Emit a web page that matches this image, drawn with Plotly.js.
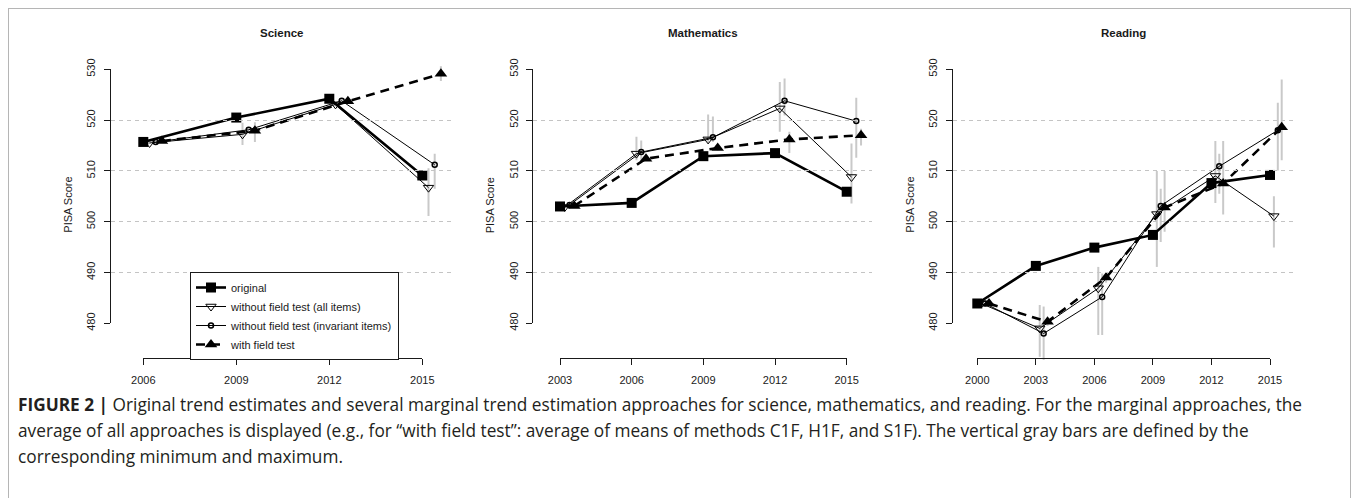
<!DOCTYPE html>
<html>
<head>
<meta charset="utf-8">
<script src="https://cdn.plot.ly/plotly-3.0.1.min.js"></script>
<style>
  html, body { margin:0; padding:0; background:#fff; }
  #wrap { position:relative; width:1358px; height:498px; overflow:hidden; }
  #chart { position:absolute; left:0; top:0; width:1358px; height:498px; }
  #frame { position:absolute; left:8px; top:8px; width:1341px; height:520px; border:1px solid #b5b5b5; pointer-events:none; }
  #caption { position:absolute; left:18px; top:392px; font-family:"Open Sans", "Liberation Sans", Arial, sans-serif; font-size:16px; line-height:26px; color:#231f20; white-space:nowrap; }
</style>
</head>
<body>
<div id="wrap">
  <div id="chart"></div>
  <div id="frame"></div>
  <div id="caption"><span id="cap1"><b>FIGURE 2 |</b> Original trend estimates and several marginal trend estimation approaches for science, mathematics, and reading. For the marginal approaches, the</span><br>average of all approaches is displayed (e.g., for “with field test”: average of means of methods C1F, H1F, and S1F). The vertical gray bars are defined by the<br>corresponding minimum and maximum.</div>
</div>
<script>
// ---------------- data ----------------
const panelTitles = ['Science', 'Mathematics', 'Reading'];
const seriesNames = ['original', 'without field test (all items)', 'without field test (invariant items)', 'with field test'];
const yAxisLabel = 'PISA Score';
const yTicks = [480, 490, 500, 510, 520, 530];

const scienceYears = [2006, 2009, 2012, 2015];
const scienceOriginal = [515.7, 520.5, 524.2, 509.1];
const scienceAllItems = [515.5, 517.2, 523.1, 506.7];
const scienceAllItemsMin = [515.3, 515.1, 522.7, 501.1];
const scienceAllItemsMax = [515.8, 519.5, 523.5, 510.5];
const scienceInvariant = [515.7, 518.1, 523.8, 511.2];
const scienceInvariantMin = [515.5, 517.6, 523.4, 506.5];
const scienceInvariantMax = [516.0, 518.6, 524.2, 513.4];
const scienceFieldTest = [515.9, 517.9, 523.7, 529.1];
const scienceFieldTestMin = [515.6, 515.7, 523.3, 527.7];
const scienceFieldTestMax = [516.2, 519.6, 524.1, 530.6];

const mathYears = [2003, 2006, 2009, 2012, 2015];
const mathOriginal = [503.0, 503.7, 512.9, 513.5, 505.9];
const mathAllItems = [502.9, 513.4, 516.2, 522.3, 508.8];
const mathAllItemsMin = [502.6, 512.1, 515.4, 517.7, 503.6];
const mathAllItemsMax = [503.3, 516.7, 521.1, 527.5, 515.4];
const mathInvariant = [503.3, 513.7, 516.6, 523.8, 519.8];
const mathInvariantMin = [503.0, 511.8, 515.7, 520.9, 512.6];
const mathInvariantMax = [503.6, 516.0, 520.7, 528.2, 524.4];
const mathFieldTest = [503.1, 512.4, 514.5, 516.2, 517.0];
const mathFieldTestMin = [502.8, 512.0, 514.0, 513.5, 515.0];
const mathFieldTestMax = [503.4, 512.8, 515.0, 517.7, 518.3];

const readingYears = [2000, 2003, 2006, 2009, 2012, 2015];
const readingOriginal = [483.9, 491.3, 494.9, 497.4, 507.6, 509.2];
const readingAllItems = [483.9, 479.0, 486.9, 501.5, 509.0, 501.1];
const readingAllItemsMin = [483.7, 473.4, 477.7, 491.1, 503.7, 494.9];
const readingAllItemsMax = [484.1, 483.6, 491.1, 510.0, 515.9, 505.0];
const readingInvariant = [483.9, 478.0, 485.2, 503.1, 510.9, 518.0];
const readingInvariantMin = [483.7, 472.8, 477.7, 496.0, 505.5, 510.1];
const readingInvariantMax = [484.1, 483.3, 489.8, 506.5, 513.4, 523.4];
const readingFieldTest = [483.9, 480.3, 489.0, 502.8, 507.5, 518.6];
const readingFieldTestMin = [483.7, 479.5, 488.0, 498.0, 501.4, 512.1];
const readingFieldTestMax = [484.1, 481.0, 490.0, 510.0, 515.9, 528.0];

// ---------------- styling / geometry ----------------
const W = 1358, H = 498;
const FONT = '"Liberation Sans", Arial, sans-serif';
const INK = '#1a1a1a';
const jitter = [0, 0.2, 0.4, 0.6];       // horizontal dodge of the series (years)
const geom = [
  {plotLeft: 110.7, plotRight: 451.7, firstTickPx: 143.3, lastTickPx: 422.3},
  {plotLeft: 533.3, plotRight: 871.7, firstTickPx: 560.0, lastTickPx: 846.7},
  {plotLeft: 952.7, plotRight: 1295.0, firstTickPx: 977.3, lastTickPx: 1270.0}
];
const yTopPx = 69.3, yBotPx = 323.3, xAxisPx = 358, dataTopPx = 45, dataBotPx = 362;

const panels = [
  {years: scienceYears, vals: [scienceOriginal, scienceAllItems, scienceInvariant, scienceFieldTest],
   mins: [null, scienceAllItemsMin, scienceInvariantMin, scienceFieldTestMin],
   maxs: [null, scienceAllItemsMax, scienceInvariantMax, scienceFieldTestMax]},
  {years: mathYears, vals: [mathOriginal, mathAllItems, mathInvariant, mathFieldTest],
   mins: [null, mathAllItemsMin, mathInvariantMin, mathFieldTestMin],
   maxs: [null, mathAllItemsMax, mathInvariantMax, mathFieldTestMax]},
  {years: readingYears, vals: [readingOriginal, readingAllItems, readingInvariant, readingFieldTest],
   mins: [null, readingAllItemsMin, readingInvariantMin, readingFieldTestMin],
   maxs: [null, readingAllItemsMax, readingInvariantMax, readingFieldTestMax]}
];

const seriesStyle = [
  {line: {color: '#000', width: 2.6}, marker: {symbol: 'square', size: 10, color: '#000'}},
  {line: {color: '#000', width: 1}, marker: {symbol: 'triangle-down-open', size: 9, color: '#000', line: {width: 1, color: '#000'}}},
  {line: {color: '#000', width: 1}, marker: {symbol: 'circle-open', size: 5, color: '#000', line: {width: 1.5, color: '#000'}}},
  {line: {color: '#000', width: 2.6, dash: '9px,6px'}, marker: {symbol: 'triangle-up', size: 11, color: '#000'}}
];

const px2x = p => p / W;
const py2y = p => 1 - p / H;
const axId = k => (k === 1 ? '' : String(k));

const traces = [];
const layout = {
  width: W, height: H,
  margin: {l: 0, r: 0, t: 0, b: 0},
  paper_bgcolor: '#fff', plot_bgcolor: 'rgba(0,0,0,0)',
  font: {family: FONT, color: INK, size: 11},
  showlegend: true,
  legend: {
    x: px2x(190), y: py2y(360), xanchor: 'left', yanchor: 'bottom',
    bordercolor: INK, borderwidth: 1, bgcolor: '#fff',
    font: {family: FONT, size: 11, color: INK},
    itemwidth: 30, tracegroupgap: 0
  },
  annotations: [],
  hovermode: false
};

const yppu = (yBotPx - yTopPx) / (yTicks[yTicks.length - 1] - yTicks[0]);

panels.forEach((p, i) => {
  const g = geom[i];
  const n = 2 * i + 1, m = 2 * i + 2;
  const xd = 'x' + axId(n), xv = 'x' + axId(m), yd = 'y' + axId(n), yv = 'y' + axId(m);
  const y0 = p.years[0], y1 = p.years[p.years.length - 1];
  const pxpy = (g.lastTickPx - g.firstTickPx) / (y1 - y0);

  // hidden data axes
  layout['xaxis' + axId(n)] = {
    domain: [px2x(g.plotLeft), px2x(g.plotRight)],
    range: [y0 - (g.firstTickPx - g.plotLeft) / pxpy, y1 + (g.plotRight - g.lastTickPx) / pxpy],
    anchor: yd, visible: false, fixedrange: true
  };
  layout['yaxis' + axId(n)] = {
    domain: [py2y(dataBotPx), py2y(dataTopPx)],
    range: [yTicks[0] - (dataBotPx - yBotPx) / yppu, yTicks[yTicks.length - 1] + (yTopPx - dataTopPx) / yppu],
    anchor: xd, visible: false, fixedrange: true
  };
  // visible x axis spanning first..last tick (R style)
  layout['xaxis' + axId(m)] = {
    domain: [px2x(g.firstTickPx), px2x(g.lastTickPx)],
    range: [y0, y1], anchor: 'free', position: py2y(xAxisPx),
    tickmode: 'array', tickvals: p.years, ticktext: p.years.map(String),
    ticks: 'outside', ticklen: 6, tickwidth: 1, tickcolor: INK,
    showline: true, linecolor: INK, linewidth: 1,
    showgrid: false, zeroline: false, fixedrange: true,
    tickfont: {family: FONT, size: 11, color: INK}, ticklabelstandoff: 6
  };
  // visible y axis with grid
  layout['yaxis' + axId(m)] = {
    domain: [py2y(yBotPx), py2y(yTopPx)],
    range: [yTicks[0], yTicks[yTicks.length - 1]], anchor: xd, side: 'left',
    tickmode: 'array', tickvals: yTicks, ticktext: yTicks.map(String),
    ticks: 'outside', ticklen: 6, tickwidth: 1, tickcolor: INK, tickangle: -90,
    showline: true, linecolor: INK, linewidth: 1,
    showgrid: true, gridcolor: '#c4c4c4', gridwidth: 1, griddash: '4px,4px',
    zeroline: false, fixedrange: true,
    tickfont: {family: FONT, size: 11, color: INK}, ticklabelstandoff: 4
  };

  // invisible carriers so the two display axes get their subplots
  traces.push({type: 'scatter', mode: 'markers', xaxis: xd, yaxis: yv,
    x: p.years, y: p.vals[0], marker: {size: 1, color: 'rgba(0,0,0,0)'}, showlegend: false, hoverinfo: 'skip'});
  traces.push({type: 'scatter', mode: 'markers', xaxis: xv, yaxis: yd,
    x: p.years, y: p.vals[0], marker: {size: 1, color: 'rgba(0,0,0,0)'}, showlegend: false, hoverinfo: 'skip'});

  // gray min-max bars first (behind)
  for (let s = 1; s < 4; s++) {
    traces.push({
      type: 'scatter', mode: 'markers', xaxis: xd, yaxis: yd,
      x: p.years.map(v => v + jitter[s]), y: p.vals[s],
      marker: {size: 2, color: 'rgba(0,0,0,0)'},
      error_y: {type: 'data', symmetric: false,
        array: p.maxs[s].map((v, k) => v - p.vals[s][k]),
        arrayminus: p.mins[s].map((v, k) => p.vals[s][k] - v),
        width: 0, thickness: 2, color: '#c9c9c9'},
      showlegend: false, hoverinfo: 'skip'
    });
  }
  // series
  for (let s = 0; s < 4; s++) {
    traces.push(Object.assign({
      type: 'scatter', mode: 'lines+markers', xaxis: xd, yaxis: yd,
      x: p.years.map(v => v + jitter[s]), y: p.vals[s],
      name: seriesNames[s], showlegend: i === 0, cliponaxis: false, hoverinfo: 'skip'
    }, JSON.parse(JSON.stringify(seriesStyle[s]))));
  }

  // panel title & y label
  layout.annotations.push({
    text: '<b>' + panelTitles[i] + '</b>', xref: 'paper', yref: 'paper',
    x: px2x((g.plotLeft + g.plotRight) / 2), y: py2y(33), xanchor: 'center', yanchor: 'middle',
    showarrow: false, font: {family: FONT, size: 11.5, color: INK}
  });
  layout.annotations.push({
    text: yAxisLabel, xref: 'paper', yref: 'paper', textangle: -90,
    x: px2x(g.plotLeft - 43), y: py2y(205), xanchor: 'center', yanchor: 'middle',
    showarrow: false, font: {family: FONT, size: 11, color: INK}
  });
});

Plotly.newPlot('chart', traces, layout, {staticPlot: true, displayModeBar: false});

// fit caption's first line to the reference text width
(function () {
  const cap = document.getElementById('caption');
  const w = document.getElementById('cap1').getBoundingClientRect().width;
  const target = 1284;
  if (w > 0) cap.style.fontSize = (16 * target / w).toFixed(2) + 'px';
})();
</script>
</body>
</html>
